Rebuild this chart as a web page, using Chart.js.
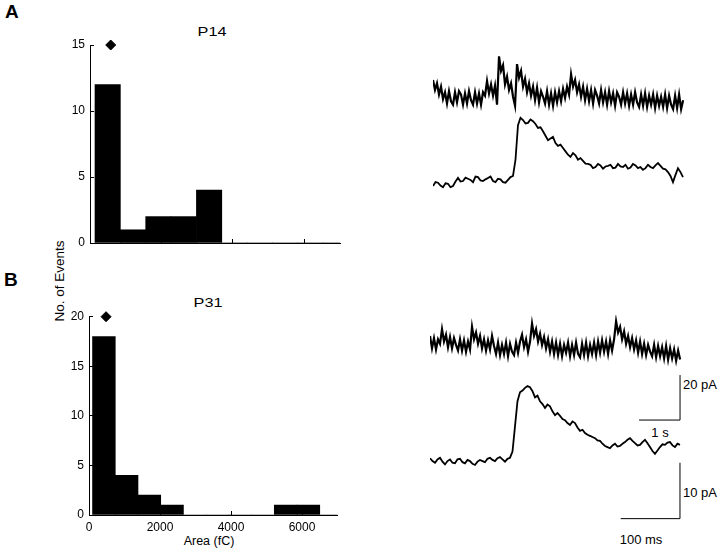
<!DOCTYPE html>
<html>
<head>
<meta charset="utf-8">
<script src="https://cdn.jsdelivr.net/npm/chart.js@4.4.1/dist/chart.umd.min.js"></script>
<style>
  body { margin: 0; width: 720px; height: 553px; position: relative; overflow: hidden; background: #fff;
         font-family: "Liberation Sans", Arial, sans-serif; color: #000; }
  canvas { position: absolute; }
  .t { position: absolute; line-height: 1; white-space: nowrap; font-size: 13px; }
  .c { transform: translateX(-50%); }
  .ttl { transform: translateX(-50%) scaleX(1.25); font-size: 13px; }
  .panel { font-weight: bold; font-size: 19px; }
</style>
</head>
<body>
<div class="t panel" style="left:5px;top:2px">A</div>
<div class="t panel" style="left:4px;top:270px">B</div>
<div class="t ttl" style="left:212px;top:25px">P14</div>
<div class="t ttl" style="left:208px;top:296px">P31</div>
<div class="t" style="left:60px;top:281px;font-size:13.5px;transform:translate(-50%,-50%) rotate(-90deg)">No. of Events</div>
<div class="t c" style="left:209px;top:535px;font-size:12.5px">Area (fC)</div>
<div class="t" style="left:683px;top:378px">20 pA</div>
<div class="t c" style="left:660px;top:426px">1 s</div>
<div class="t" style="left:683px;top:486px">10 pA</div>
<div class="t c" style="left:641px;top:533px">100 ms</div>

<canvas id="histA" width="310" height="240" style="left:40px;top:20px"></canvas>
<canvas id="histB" width="310" height="245" style="left:40px;top:290px"></canvas>
<canvas id="slowA" width="252" height="65" style="left:433px;top:50px"></canvas>
<canvas id="fastA" width="252" height="85" style="left:433px;top:110px"></canvas>
<canvas id="slowB" width="252" height="110" style="left:430px;top:315px"></canvas>
<canvas id="fastB" width="252" height="142" style="left:430px;top:380px"></canvas>

<script>
// Histogramy: pole powierzchni zdarzen (fC)
const areaTicks = [0, 2000, 4000, 6000];
const countTicksStep = 5;

const p14BinCenters = [495, 1205, 1915, 2625, 3335, 4045, 4755, 5465, 6175, 6885];
const p14Counts = [12, 1, 2, 2, 4, 0, 0, 0, 0, 0];
const p14Mean = 580;

const p31BinCenters = [420, 1060, 1700, 2340, 2980, 3620, 4260, 4900, 5540, 6180, 6820];
const p31Counts = [18, 4, 2, 1, 0, 0, 0, 0, 1, 1, 0];
const p31Mean = 480;

// Przebiegi pradu (pA, wzgledem linii bazowej)
const slowDt = 0.0488; // s
const fastDt = 4.216;  // ms

const p14Slow = [
  8.0, 3.5, 6.5, 1.5, 5.0, -0.5, 2.5, -2.5, 3.0, -1.5,
  -3.0, 2.5, -2.0, 3.0, 1.5, -3.0, 2.0, -2.5, 3.0, -1.0,
  -3.0, 2.5, -2.5, 2.0, -3.0, 2.5, 1.0, 7.5, 2.0, 6.0,
  1.0, 5.5, -3.0, 18.5, 12.0, 14.5, 6.0, 9.5, 3.5, 6.5,
  0.5, -3.5, 15.0, 9.0, 12.0, 5.0, 8.5, 2.5, 6.5, 1.0,
  5.0, -1.0, 4.5, -2.0, 3.0, 0.5, -2.5, 3.0, -3.0, 2.0,
  -3.5, 2.5, -2.0, 3.0, -1.5, 4.0, 0.0, 5.0, 1.5, 10.5,
  5.0, 8.0, 2.5, 6.0, 0.5, 5.0, -1.0, 4.0, -1.5, 3.5,
  -2.5, 3.5, 1.0, -2.5, 3.5, -2.0, 2.5, -3.0, 3.0, -2.0,
  2.0, -3.5, 2.5, 0.5, -3.0, 2.5, -2.5, 2.0, -3.5, 1.5,
  -3.0, 2.5, -2.0, -4.0, 1.5, -3.5, 2.0, -4.0, 1.0, -3.0,
  1.5, -4.5, 1.0, -3.5, 0.5, -4.0, 1.5, -4.5, 1.0, -3.0,
  -5.0, 1.0, -4.5, 1.5, -5.0, -1.0];

const p14Fast = [
  -0.2, 0.5, 0.4, -0.1, -0.4, 0.3, 0.2, -0.4, -0.2, 0.6,
  1.25, 0.6, 0.7, 1.3, 1.1, 0.9, 0.5, 1.5, 1.4, 0.8,
  0.7, 1.0, 1.25, 1.5, 0.7, 0.5, 1.1, 1.0, 0.5, 0.4,
  0.9, 1.4, 1.6, 4.5, 10.7, 12.0, 11.6, 11.0, 11.1, 11.7,
  11.4, 10.9, 10.2, 10.3, 9.6, 8.8, 8.0, 8.3, 8.6, 7.5,
  7.0, 7.2, 6.6, 6.0, 5.4, 5.0, 5.7, 5.3, 4.5, 4.8,
  4.3, 3.8, 3.75, 3.6, 3.0, 3.2, 3.75, 3.5, 2.9, 3.3,
  3.4, 3.6, 3.0, 3.1, 3.75, 3.3, 3.2, 3.6, 2.9, 3.1,
  3.75, 3.5, 3.0, 3.2, 2.7, 3.0, 3.6, 3.2, 3.0, 3.5,
  3.9, 3.4, 2.9, 2.8, 2.3, 1.6, 0.5, 1.8, 3.0, 2.3,
  1.4];

const p31Slow = [
  4.5, -1.0, 3.5, -1.5, 3.0, 1.0, 7.5, 2.0, 5.0, -0.5,
  4.0, -1.0, 3.5, 0.5, -2.0, 3.0, -2.0, 2.5, -2.5, 2.0,
  -1.5, 8.5, 3.0, 6.0, 1.0, 4.5, -1.0, 3.0, -2.0, 2.5,
  -1.5, 4.5, 0.0, -3.5, 1.5, -4.0, 0.5, -3.5, 1.5, -4.5,
  1.0, -2.5, -4.0, 1.5, -3.0, 2.0, 5.0, -0.5, 3.0, -2.5,
  2.0, 10.0, 4.5, 7.5, 2.0, 5.5, 0.5, 4.0, -1.0, 3.0,
  -2.5, 2.0, -3.5, 1.5, -4.0, 1.0, -4.5, 0.5, -3.0, 1.5,
  -4.5, 0.5, -4.0, 1.5, -3.5, -5.0, 1.0, -4.0, 1.5, -4.5,
  0.5, -3.5, 1.5, -4.0, 2.0, -3.0, 2.5, -2.5, 2.0, -3.5,
  2.5, -2.0, 3.0, 11.0, 6.0, 8.5, 3.0, 6.5, 1.0, 4.5,
  -0.5, 3.5, -1.5, 2.5, -3.0, 2.0, -3.5, 1.0, -4.0, 0.5,
  -2.5, -4.5, 0.5, -5.0, 0.0, -4.5, -0.5, -5.5, 0.0, -6.0,
  -1.0, -5.5, -1.5, -6.5, -2.0, -6.0];

const p31Fast = [
  0.3, -0.2, -0.5, 0.1, 0.4, -0.3, -0.8, -0.2, 0.1, -0.5,
  -0.6, 0.1, 0.2, -0.4, -0.6, 0.0, -0.2, -0.7, -0.9, -0.3,
  0.0, -0.2, -0.4, 0.2, 0.4, 0.0, -0.2, 0.3, 0.5, 0.1,
  -0.3, 0.2, 0.4, 1.5, 6.0, 10.5, 12.1, 12.4, 12.9, 13.2,
  13.0, 12.3, 11.2, 11.5, 10.5, 10.0, 9.3, 9.9, 9.6, 8.7,
  8.0, 8.4, 7.9, 7.3, 7.1, 6.6, 6.25, 6.9, 6.6, 5.8,
  5.2, 5.4, 4.8, 4.5, 4.3, 4.1, 3.9, 3.5, 3.4, 2.9,
  2.5, 2.3, 2.1, 2.6, 2.9, 2.4, 2.5, 2.9, 3.2, 3.6,
  3.9, 3.4, 3.0, 2.6, 2.7, 3.2, 3.6, 3.0, 2.3, 1.6,
  1.1, 1.7, 2.3, 2.8, 2.7, 3.1, 3.2, 2.6, 2.3, 2.9,
  2.7];

// Paski skali: dlugosc w czasie i w pradzie
const slowBar = { time: 1, current: 20, end: 6.098, base: -32.9 };
const fastBar = { time: 100, current: 10, end: 421.6, base: -10.5 };

Chart.defaults.font.family = '"Liberation Sans", Arial, sans-serif';
Chart.defaults.font.size = 12;
Chart.defaults.color = '#000';

const inwardGrid = {
  display: true, drawOnChartArea: false, drawTicks: true, tickLength: -4, color: '#000', lineWidth: 1,
};

/**
 * Rysuje histogram z rombem oznaczajacym srednia.
 */
const histogram = (id, centers, counts, mean, yMax, showXLabels, yWidth, xHeight, padding) => {
  const ctx = document.getElementById(id).getContext('2d');
  return new Chart(ctx, {
    data: {
      datasets: [
        {
          type: 'bar',
          data: centers.map((c, i) => ({ x: c, y: counts[i] })),
          backgroundColor: '#000',
          borderWidth: 0,
          barPercentage: 1,
          categoryPercentage: 1,
        },
        {
          type: 'scatter',
          data: [{ x: mean, y: yMax }],
          pointStyle: 'rectRot',
          pointRadius: 5,
          backgroundColor: '#000',
          borderColor: '#000',
          clip: false,
        },
      ],
    },
    options: {
      responsive: false,
      animation: false,
      devicePixelRatio: 1,
      layout: { padding },
      plugins: { legend: { display: false }, tooltip: { enabled: false } },
      scales: {
        x: {
          type: 'linear', min: 0, max: 7000, offset: false,
          grid: { ...inwardGrid, offset: false },
          border: { display: true, color: '#000', width: 1 },
          afterBuildTicks: (s) => { s.ticks = areaTicks.map((v) => ({ value: v })); },
          afterFit: (s) => { s.height = xHeight; },
          ticks: { display: showXLabels, padding: 9, maxRotation: 0, callback: (v) => String(v) },
        },
        y: {
          min: 0, max: yMax,
          grid: inwardGrid,
          border: { display: true, color: '#000', width: 1 },
          ticks: { stepSize: countTicksStep, padding: 9 },
          afterFit: (s) => { s.width = yWidth; },
        },
      },
    },
  });
};

/**
 * Rysuje jeden przebieg pradu (opcjonalnie z paskiem skali).
 */
const trace = (id, values, dt, xMax, yMin, yMax, bar, width) => {
  const ctx = document.getElementById(id).getContext('2d');
  const datasets = [{
    data: values.map((v, i) => ({ x: i * dt, y: v })),
    borderColor: '#000',
    borderWidth: width,
    pointRadius: 0,
    tension: 0,
    clip: false,
  }];
  if (bar) {
    datasets.push({
      data: [
        { x: bar.end - bar.time, y: bar.base },
        { x: bar.end, y: bar.base },
        { x: bar.end, y: bar.base + bar.current },
      ],
      borderColor: '#000',
      borderWidth: 1,
      pointRadius: 0,
      clip: false,
    });
  }
  return new Chart(ctx, {
    type: 'line',
    data: { datasets },
    options: {
      responsive: false,
      animation: false,
      devicePixelRatio: 1,
      layout: { padding: 0 },
      plugins: { legend: { display: false }, tooltip: { enabled: false } },
      scales: {
        x: { type: 'linear', display: false, min: 0, max: xMax },
        y: { display: false, min: yMin, max: yMax },
      },
    },
  });
};

histogram('histA', p14BinCenters, p14Counts, p14Mean, 15, false, 50, 12, { left: 0, right: 10, top: 25, bottom: 5 });
histogram('histB', p31BinCenters, p31Counts, p31Mean, 20, true, 49, 20, { left: 0, right: 12.5, top: 26.7, bottom: 0 });

trace('slowA', p14Slow, slowDt, 6.146, -7.6, 21.3, null, 2.2);
trace('fastA', p14Fast, fastDt, 425, -1.8, 13.4, null, 1.8);
trace('slowB', p31Slow, slowDt, 6.146, -35.1, 13.8, slowBar, 2.2);
trace('fastB', p31Fast, fastDt, 425, -11.1, 14.3, fastBar, 1.8);
</script>
</body>
</html>
